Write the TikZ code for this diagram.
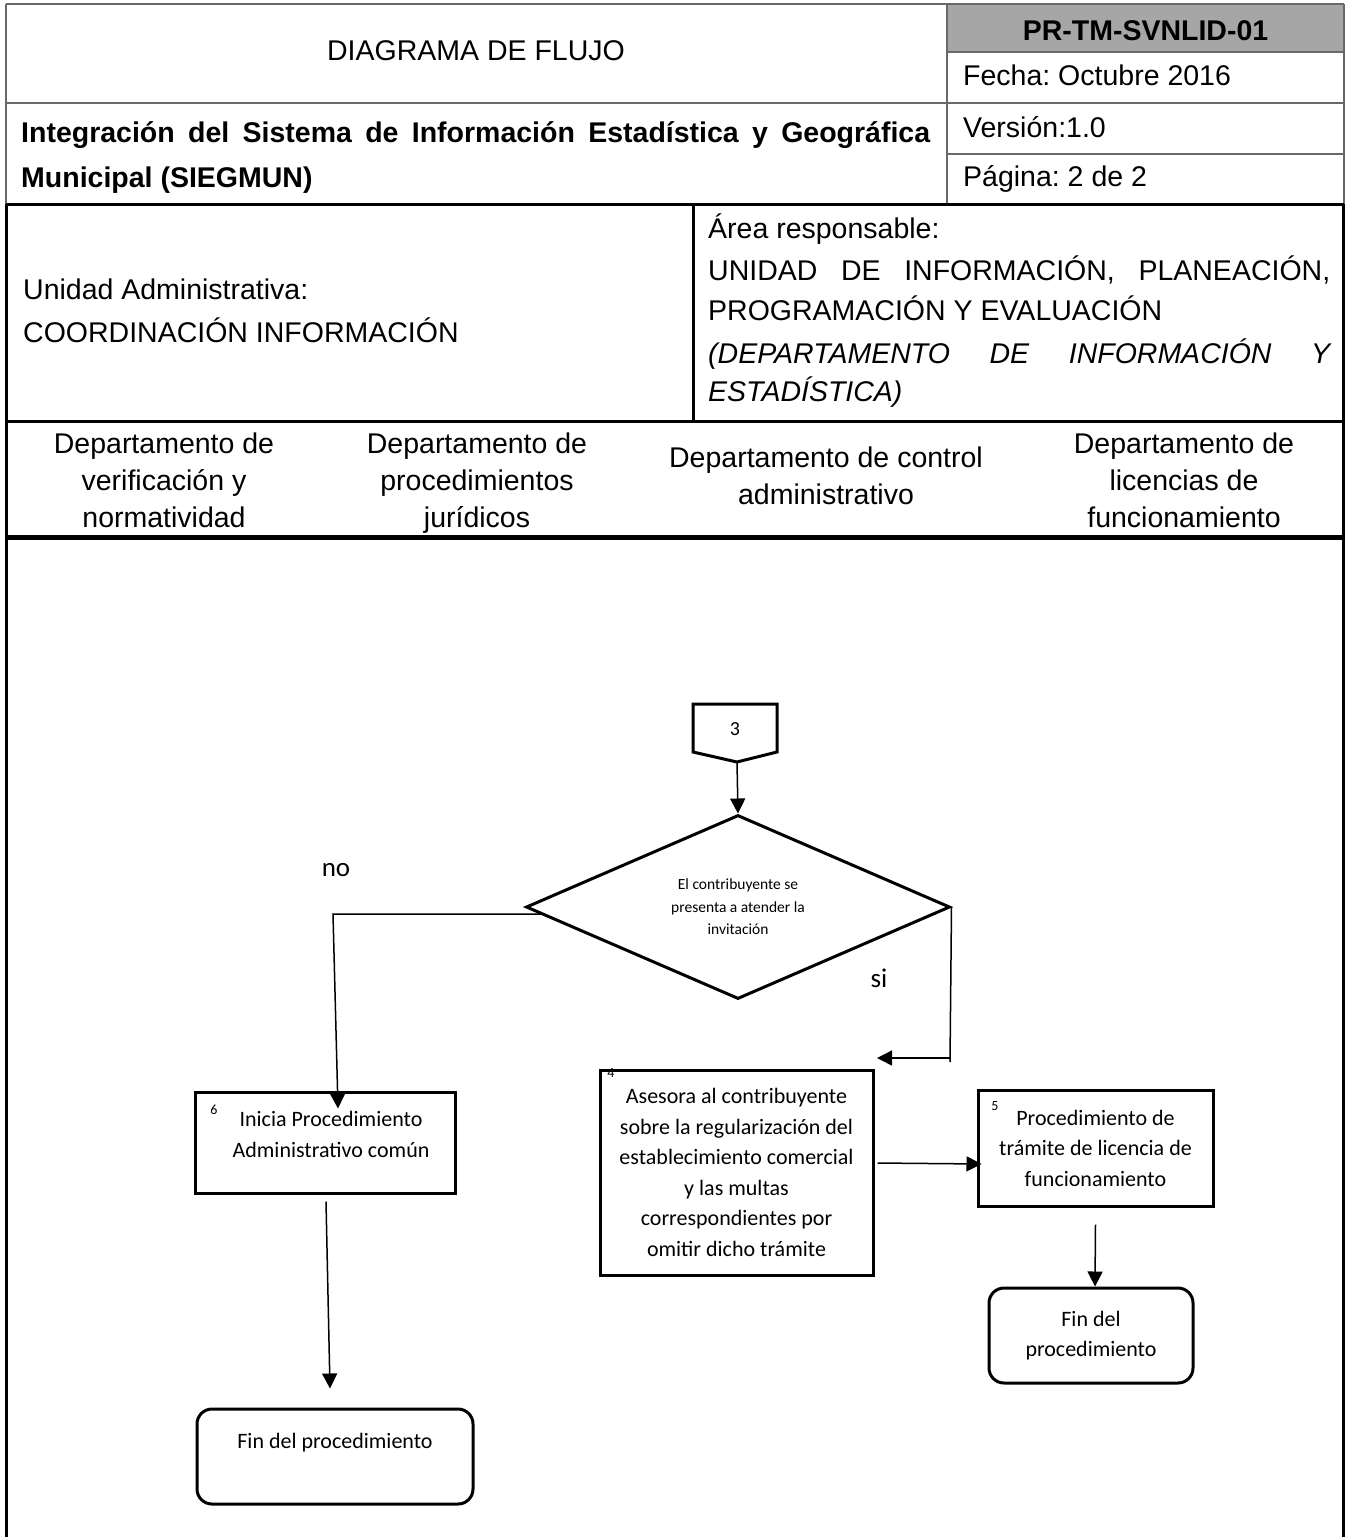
\documentclass[tikz,border=0pt]{standalone}
\usepackage{fontspec}
\setmainfont{Liberation Sans}
\newfontfamily\calfont{Carlito}
\usetikzlibrary{shapes.geometric,arrows.meta}
\definecolor{hdrgray}{RGB}{166,166,166}
\definecolor{linegray}{RGB}{105,105,105}
\frenchspacing
\begin{document}
\begin{tikzpicture}[x=1pt,y=-1pt,
  hdr/.style={font=\fontsize{28.5}{34}\selectfont, inner sep=0pt},
  hdrb/.style={font=\fontsize{28.5}{34}\selectfont\bfseries, inner sep=0pt},
  dept/.style={font=\fontsize{28.5}{37}\selectfont, align=center, inner sep=0pt, anchor=north},
  glines/.style={draw=linegray, line width=2.5pt},
  blines/.style={draw=black, line width=3pt},
  procbox/.style={draw, line width=3pt, rectangle, inner sep=0pt},
  termbox/.style={draw, line width=3pt, rounded corners=15pt, inner sep=0pt},
  ftext/.style={font=\calfont\fontsize{22}{30.5}\selectfont, align=center, inner sep=0pt},
  numtxt/.style={font=\calfont\fontsize{14}{16}\selectfont, inner sep=0pt},
  lbl/.style={font=\calfont\fontsize{27}{30}\selectfont, inner sep=0pt},
  arr/.style={line width=1.5pt, -{Triangle[length=15pt,width=15pt]}},
  conn/.style={line width=1.5pt},
]
\useasboundingbox (0,0) rectangle (1346,1537);

% ---------- header ----------
\fill[hdrgray] (947,4) rectangle (1344,52);
\draw[glines] (6,4) -- (1344,4);
\draw[glines] (6,4) -- (6,204);
\draw[glines] (1344,4) -- (1344,204);
\draw[glines] (947,4) -- (947,204);
\draw[glines] (947,52) -- (1344,52);
\draw[glines] (6,103) -- (1344,103);
\draw[glines] (947,154) -- (1344,154);
\draw[blines] (6,204) -- (1344,204);
\draw[blines] (693,204) -- (693,421);
\draw[blines] (6,421) -- (1344,421);
\draw[draw=black, line width=5pt] (6,537) -- (1344,537);
\draw[blines] (6,204) -- (6,1537);
\draw[blines] (1343,204) -- (1343,1537);

\node[hdr, anchor=base] (title) at (476,60) {DIAGRAMA DE FLUJO};
\node[hdrb, anchor=base] (code) at (1145.5,40) {PR-TM-SVNLID-01};
\node[hdr, anchor=base west] (fecha) at (963,85) {Fecha: Octubre 2016};
\node[hdr, anchor=base west] (version) at (963,137) {Versión:1.0};
\node[hdr, anchor=base west] (pagina) at (963,186) {Página: 2 de 2};
\node[hdrb, anchor=base west] (integ1) at (21,142) {\makebox[909pt][s]{Integración del Sistema de Información Estadística y Geográfica}};
\node[hdrb, anchor=base west] (integ2) at (21,187) {Municipal (SIEGMUN)};
\node[hdr, anchor=base west] (unid1) at (23,299) {Unidad Administrativa:};
\node[hdr, anchor=base west] (unid2) at (23,342) {COORDINACIÓN INFORMACIÓN};
\node[hdr, anchor=base west] (area1) at (708,238) {Área responsable:};
\node[hdr, anchor=base west] (area2) at (708,280) {\makebox[622pt][s]{UNIDAD DE INFORMACIÓN, PLANEACIÓN,}};
\node[hdr, anchor=base west] (area3) at (708,320) {PROGRAMACIÓN Y EVALUACIÓN};
\node[hdr, anchor=base west] (area4) at (708,363) {\itshape\makebox[622pt][s]{(DEPARTAMENTO DE INFORMACIÓN Y}};
\node[hdr, anchor=base west] (area5) at (708,401) {\itshape ESTADÍSTICA)};

\node[dept] (d1) at (164,432.5) {Departamento de\\verificación y\\normatividad};
\node[dept] (d2) at (477,432.5) {Departamento de\\procedimientos\\jurídicos};
\node[dept] (d3) at (826,447) {Departamento de control\\administrativo};
\node[dept] (d4) at (1184,432.5) {Departamento de\\licencias de\\funcionamiento};

% ---------- flowchart ----------
\draw[line width=3pt] (693,704) -- (777,704) -- (777,752) -- (737,762) -- (693,752) -- cycle;
\node[font=\calfont\fontsize{20}{24}\selectfont, inner sep=0pt] (c3) at (735,729) {3};
\coordinate (c3b) at (737,762);

\node[draw, diamond, line width=3pt, minimum width=424pt, minimum height=184pt,
      inner sep=0pt, aspect=2.3, align=center,
      font=\calfont\fontsize{15.5}{22.5}\selectfont] (dec) at (738,907)
      {El contribuyente se\\presenta a atender la\\invitación};

\node[procbox, minimum width=260pt, minimum height=101pt] (inicia) at (325,1142.5) {};
\node[ftext] (iniciatxt) at (331,1134.5) {Inicia Procedimiento\\Administrativo común};
\node[numtxt] (n6) at (214,1110) {6};

\node[procbox, ftext, minimum width=273pt, minimum height=205pt] (ases) at (736.5,1172.5)
  {Asesora al contribuyente\\sobre la regularización del\\establecimiento comercial\\y las multas\\correspondientes por\\omitir dicho trámite};
\node[numtxt] (n4) at (611,1073) {4};

\node[procbox, ftext, minimum width=235pt, minimum height=116pt] (proc) at (1095.5,1148)
  {Procedimiento de\\trámite de licencia de\\funcionamiento};
\node[numtxt] (n5) at (995,1106) {5};

\node[termbox, ftext, minimum width=204pt, minimum height=95pt] (finr) at (1091,1335.5)
  {Fin del\\procedimiento};

\node[termbox, minimum width=276pt, minimum height=95pt] (finl) at (335,1456.5) {};
\node[ftext] (finltxt) at (335,1443) {Fin del procedimiento};

\node[lbl] (nolbl) at (336,870) {no};
\node[lbl] (silbl) at (879,978) {si};

% connectors
\draw[arr] (c3b) -- (dec.north);
\coordinate (nocorner) at (333,914);
\draw[arr] ([shift={(17pt,-7pt)}]dec.west) -- (nocorner) -- ([shift={(13pt,-18pt)}]inicia.north);
\coordinate (sicorner) at (950,1058);
\coordinate (siend) at (877,1058);
\draw[conn] (dec.east) -- ([yshift=-4pt]sicorner);
\draw[arr] (sicorner) -- (siend);
\draw[arr] ([shift={(1pt,-7pt)}]inicia.south) -- ([shift={(-5pt,19pt)}]finl.north);
\draw[arr] ([shift={(3pt,9.5pt)}]ases.east) -- ([shift={(5pt,-16pt)}]proc.west);
\draw[arr] ([shift={(0pt,-17pt)}]proc.south) -- ([shift={(4pt,0pt)}]finr.north);
\end{tikzpicture}
\end{document}
